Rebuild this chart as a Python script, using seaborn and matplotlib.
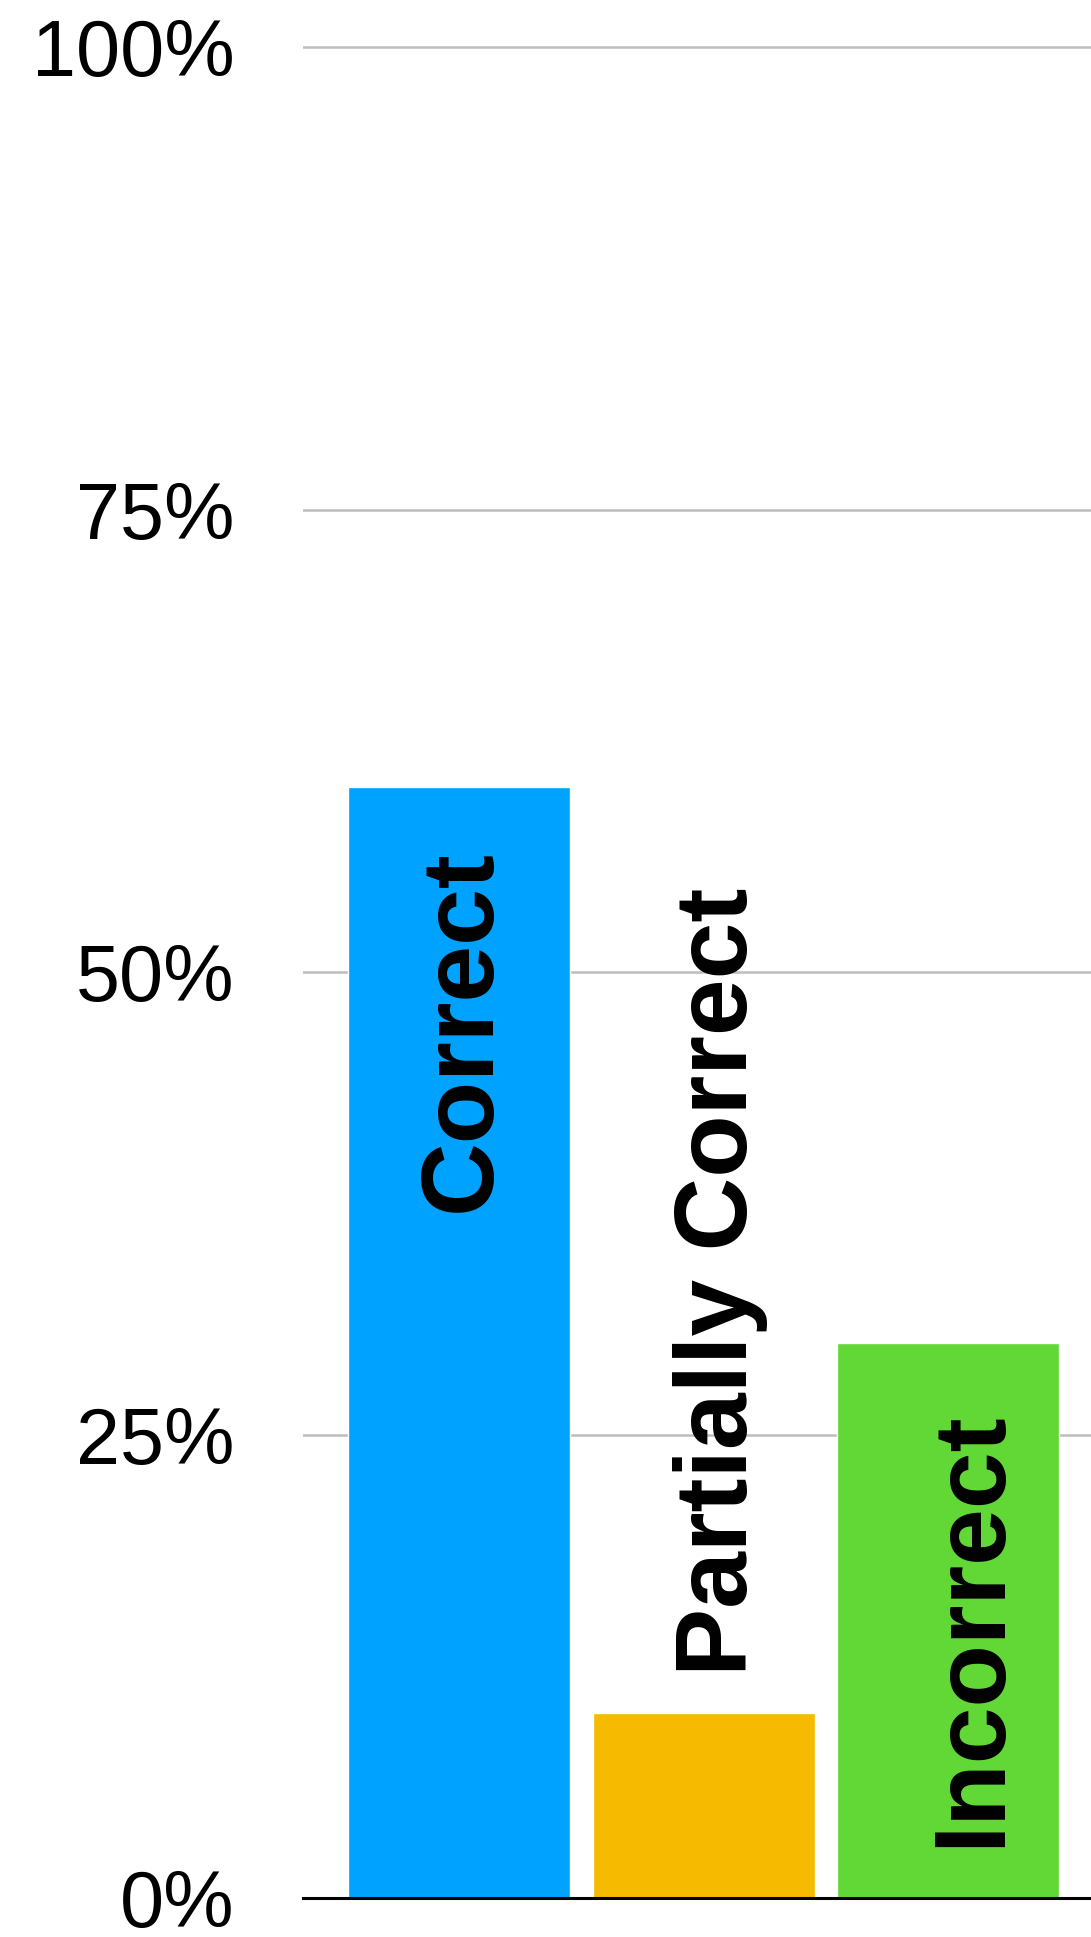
import matplotlib
matplotlib.use("Agg")
import matplotlib.pyplot as plt
import seaborn as sns
import pandas as pd

# Share of answers by outcome (percent)
categories = ["Correct", "Partially Correct", "Incorrect"]
values = [60, 10, 30]
colors = ["#00A2FF", "#F6BA00", "#61D836"]
tick_values = [0, 25, 50, 75, 100]
tick_labels = ["0%", "25%", "50%", "75%", "100%"]

sns.set_theme(style="white")
plt.rcParams["font.family"] = ["Liberation Sans", "DejaVu Sans"]

W, H, DPI = 1091, 1937, 100
fig = plt.figure(figsize=(W / DPI, H / DPI), dpi=DPI)

y_top = 101.0
px_zero, px_hundred = 1898, 47
px_top = px_hundred - (px_zero - px_hundred) * (y_top - 100) / 100
ax = fig.add_axes([303 / W, (H - px_zero) / H, 1 - 303 / W, (px_zero - px_top) / H])

df = pd.DataFrame({"category": categories, "value": values})
sns.barplot(data=df, x="category", y="value", hue="category", palette=colors,
            order=categories, hue_order=categories, width=0.908, dodge=False,
            saturation=1, legend=False, ax=ax, zorder=2)

ax.set_xlim(-0.638, 2.584)
ax.set_ylim(0, y_top)
ax.set_yticks(tick_values)
ax.set_yticklabels(tick_labels, fontsize=57, color="black")
ax.set_xticks([])
ax.set_xlabel("")
ax.set_ylabel("")
ax.tick_params(axis="y", length=0, pad=49, labelcolor="black")

ax.yaxis.grid(True, color="#BDBDBD", linewidth=1.8, zorder=0)
ax.set_axisbelow(True)
for side in ["top", "right", "left"]:
    ax.spines[side].set_visible(False)
ax.spines["bottom"].set_color("black")
ax.spines["bottom"].set_linewidth(2.2)
ax.spines["bottom"].set_zorder(3)

# Rotated category names placed beside / inside each bar
label_specs = [
    # (offset in pixels from bar top-centre, horizontal anchor along the text)
    ((31, -62), "right"),
    ((43, 37), "left"),
    ((51, -68), "right"),
]
for i, (cat, val) in enumerate(zip(categories, values)):
    (dx, dy), ha = label_specs[i]
    ax.annotate(cat, xy=(i, val), xytext=(dx, dy), textcoords="offset pixels",
                rotation=90, rotation_mode="anchor", ha=ha, va="baseline",
                fontsize=73.5, fontweight="bold", color="black", zorder=4)

fig.savefig("out.png", dpi=DPI)
